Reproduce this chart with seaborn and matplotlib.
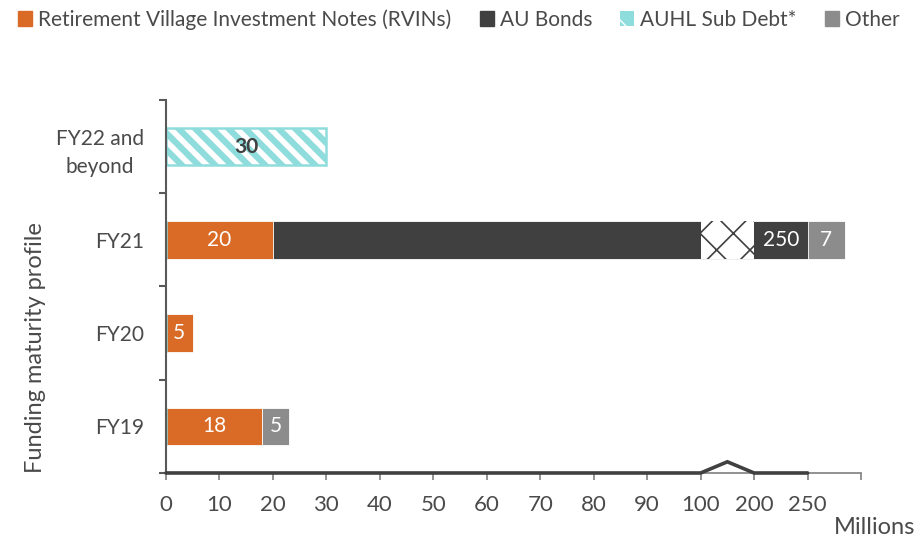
import numpy as np
import matplotlib
matplotlib.use("Agg")
import matplotlib.pyplot as plt
import seaborn as sns
from matplotlib.patches import Patch

# ---------------- data ----------------
categories = ["FY22 and\nbeyond", "FY21", "FY20", "FY19"]
series_names = ["Retirement Village Investment Notes (RVINs)", "AU Bonds",
                "AUHL Sub Debt*", "Other"]
rvins = [0, 20, 5, 18]
au_bonds = [0, 250, 0, 0]
sub_debt = [30, 0, 0, 0]
other = [0, 7, 0, 5]
x_ticks = [0, 10, 20, 30, 40, 50, 60, 70, 80, 90, 100, 200, 250, 260]
x_tick_labels = ["0", "10", "20", "30", "40", "50", "60", "70", "80", "90",
                 "100", "200", "250", ""]

# ---------------- style ----------------
sns.set_theme(style="white")
plt.rcParams["font.family"] = ["Lato", "DejaVu Sans"]
TXT = "#4a4a4a"
C_RVIN = "#D96B27"
C_AU = "#404040"
C_SUB = "#8FDCDC"
C_OTH = "#8C8C8C"

# broken x axis: 0-100 linear, 100-200 compressed, 200-250 compressed
k_in = np.array([-1e4, 0, 100, 200, 250, 1e4])
k_out = np.array([-1e4, 0, 100, 110, 120, 120 + (1e4 - 250)])


def fwd(x):
    return np.interp(np.asarray(x, dtype=float), k_in, k_out)


def inv(y):
    return np.interp(np.asarray(y, dtype=float), k_out, k_in)


rv = np.array(rvins, float)
au = np.array(au_bonds, float)
sd = np.array(sub_debt, float)
ot = np.array(other, float)
rv_end = rv
# on the broken axis the AU Bonds segment reaches its own value mark
au_end = np.where(au > 0, np.maximum(au, rv_end), rv_end)
sd_end = np.where(sd > 0, rv_end + sd, 0)
ot_end = au_end + ot

fig = plt.figure(figsize=(9.16, 5.40), dpi=100)
ax = fig.add_axes([0.1812, 0.1241, 0.7588, 0.6907])
ax.set_xscale("function", functions=(fwd, inv))

common = dict(orient="h", order=categories, saturation=1, ax=ax, width=0.4,
              edgecolor="white", linewidth=0.6)
sns.barplot(x=ot_end, y=categories, color=C_OTH, **common)
sns.barplot(x=au_end, y=categories, color=C_AU, **common)
sns.barplot(x=rv_end, y=categories, color=C_RVIN, **common)
with plt.rc_context({"hatch.linewidth": 4.5, "hatch.color": C_SUB}):
    sns.barplot(x=sd_end, y=categories, orient="h", order=categories,
                saturation=1, ax=ax, width=0.4, color="white",
                edgecolor=C_SUB, linewidth=1.8, hatch="\\\\")

# break pattern inside the AU Bonds bar
for i in range(len(categories)):
    if au[i] > 0 and rv_end[i] < 100 and au_end[i] > 200:
        with plt.rc_context({"hatch.linewidth": 1.2, "hatch.color": C_AU}):
            ax.barh(i, 100, left=100, height=0.4, facecolor="white",
                    edgecolor=C_AU, linewidth=0, hatch="x", zorder=3)

# value labels
segments = [(np.zeros(4), rv_end, rv, "white", "normal"),
            (rv_end, au_end, au, "white", "normal"),
            (rv_end, sd_end, sd, "#404040", "bold"),
            (au_end, ot_end, ot, "white", "normal")]
for lefts, rights, vals, col, fw in segments:
    for i, v in enumerate(vals):
        if v <= 0:
            continue
        l, r = lefts[i], rights[i]
        if l < 200 < r:
            l = 200
        xc = inv((fwd(l) + fwd(r)) / 2)
        ax.text(xc, i, f"{v:g}", ha="center", va="center", color=col,
                fontsize=15, fontweight=fw, zorder=5)

# axes styling
ax.set_xlim(0, 260)
ax.set_ylim(3.5, -0.5)
ax.set_xticks(x_ticks)
ax.set_xticklabels(x_tick_labels)
ax.set_yticks(range(len(categories)))
ax.set_yticklabels(categories, multialignment="center", linespacing=1.55)
ax.set_yticks(np.arange(-0.5, len(categories), 1.0), minor=True)
ax.tick_params(axis="x", which="major", bottom=True, length=5, width=1.2,
               color="#7f7f7f", pad=11, labelsize=16, labelcolor=TXT)
ax.tick_params(axis="y", which="major", left=False, length=0, pad=16,
               labelsize=15, labelcolor=TXT)
ax.tick_params(axis="y", which="minor", left=True, length=5, width=1.5,
               color="#595959")
for s in ["top", "right"]:
    ax.spines[s].set_visible(False)
ax.spines["left"].set_color("#595959")
ax.spines["left"].set_linewidth(1.5)
ax.spines["bottom"].set_color("#7f7f7f")
ax.spines["bottom"].set_linewidth(1.2)
ax.set_xlabel("")
ax.set_ylabel("Funding maturity profile", fontsize=17, color=TXT)
ax.yaxis.set_label_coords(-0.172, 0.335)

# axis break marker
ax.plot([0, 100, 150, 200, 250], [3.5, 3.5, 3.38, 3.5, 3.5], color="#404040",
        lw=2.6, clip_on=False, zorder=6, solid_joinstyle="miter")

fig.text(0.999, 1 - 527 / 540, "Millions", ha="right", va="center",
         fontsize=17, color=TXT)

handles = [Patch(facecolor=C_RVIN, edgecolor=C_RVIN),
           Patch(facecolor=C_AU, edgecolor=C_AU),
           Patch(facecolor=C_SUB, edgecolor="white", linewidth=0, hatch="\\"),
           Patch(facecolor=C_OTH, edgecolor=C_OTH)]
leg = fig.legend(handles, series_names, loc="upper left",
                 bbox_to_anchor=(0.004, 1.01), ncol=4, frameon=False,
                 fontsize=15, handlelength=0.67, handleheight=0.67,
                 handletextpad=0.29, columnspacing=1.35, labelcolor=TXT,
                 borderaxespad=0.3)

fig.savefig("out.png", dpi=100)
